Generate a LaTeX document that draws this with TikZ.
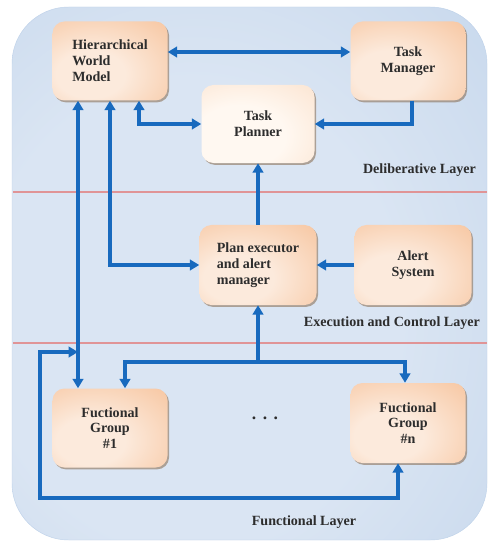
\documentclass[tikz,border=0pt]{standalone}
\usepackage{fontspec}
\setmainfont{Liberation Serif}
\usetikzlibrary{arrows.meta,shadows}

\definecolor{panelin}{RGB}{218,229,243}
\definecolor{panelmid}{RGB}{192,211,234}
\definecolor{panelout}{RGB}{138,172,215}
\definecolor{boxin}{RGB}{252,234,220}
\definecolor{boxout}{RGB}{244,178,128}
\definecolor{planin}{RGB}{255,248,241}
\definecolor{planout}{RGB}{249,214,186}
\definecolor{linkblue}{RGB}{24,106,190}
\definecolor{layerred}{RGB}{224,148,150}
\definecolor{textgray}{RGB}{45,45,45}

\pgfdeclareradialshading{panelshade}{\pgfpoint{-8bp}{-5bp}}{color(0bp)=(panelin); color(22bp)=(panelin); color(50bp)=(panelmid); color(72bp)=(panelout); color(95bp)=(panelout)}
\pgfdeclareradialshading{boxshade}{\pgfpoint{-10bp}{-10bp}}{color(0bp)=(boxin); color(15bp)=(boxin); color(60bp)=(boxout); color(95bp)=(boxout)}
\pgfdeclareradialshading{planshade}{\pgfpoint{-10bp}{-10bp}}{color(0bp)=(planin); color(20bp)=(planin); color(62bp)=(planout); color(95bp)=(planout)}

\begin{document}
\begin{tikzpicture}[
    x=0.03cm, y=-0.03cm,
    block/.style={rectangle, rounded corners=0.36cm, shading=boxshade, minimum width=3.45cm, minimum height=2.37cm, align=center, text=textgray, font=\fontsize{12}{13.5}\selectfont\bfseries, drop shadow={opacity=0.45, shadow xshift=1.3pt, shadow yshift=-1.6pt, fill=brown!60!black}},
    layername/.style={text=textgray, font=\fontsize{12}{14}\selectfont\bfseries},
    link/.style={draw=linkblue, line width=3pt, {Triangle[length=8pt,width=9pt]}-{Triangle[length=8pt,width=9pt]}},
    tolink/.style={draw=linkblue, line width=3pt, -{Triangle[length=8pt,width=9pt]}},
    divider/.style={draw=layerred, line width=2pt}
]
    \useasboundingbox[fill=white] (0,0) rectangle (489,542);

    % Hintergrund
    \path[shading=panelshade, draw=panelmid, rounded corners=1.7cm] (12,7) rectangle (487,540);
    \draw[divider] (13,192) -- (487,192);
    \draw[divider] (13,343) -- (487,343);

    % Deliberative Layer
    \node[block, align=left] (hwm) at (110,61) {Hierarchical\\World\\Model};
    \node[block] (tm) at (408,61) {Task\\Manager};
    \node[block, shading=planshade, minimum width=3.39cm, minimum height=2.34cm] (tp) at (258,124) {Task\\Planner};
    \node[layername, anchor=east] (dl) at (480,170) {Deliberative Layer};

    % Execution and Control Layer
    \node[block, align=left, minimum width=3.51cm, minimum height=2.4cm] (pe) at (258,265) {Plan executor\\and alert\\manager};
    \node[block, minimum width=3.51cm, minimum height=2.4cm] (as) at (413,265) {Alert\\System};
    \node[layername, anchor=east] (ecl) at (484,323) {Execution and Control Layer};

    % Functional Layer
    \node[block] (fg1) at (110,428) {Fuctional\\Group\\\#1};
    \node[block, minimum height=2.4cm] (fgn) at (408,423) {Fuctional\\Group\\\#n};
    \node[text=textgray, font=\fontsize{15}{16}\selectfont\bfseries] (dots) at (265,418) {.\hspace{5.5pt}.\hspace{5.5pt}.};
    \node[layername] (fl) at (304,522) {Functional Layer};

    \coordinate (split) at (258,362);
    \coordinate (fb) at (78,352);
    \coordinate (loop) at (40,498);

    % Verbindungen
    \draw[link] (hwm.east |- 0,52) -- (tm.west |- 0,52);
    \draw[link] (hwm.south -| 139,0) |- (tp.west);
    \draw[tolink] (tm.south -| 412,0) |- (tp.east);
    \draw[tolink] (pe.north) -- (tp.south);
    \draw[link] (hwm.south) |- (pe.west);
    \draw[tolink] (as.west) -- (pe.east);
    \draw[link] (hwm.south -| 78,0) -- (fg1.north -| 78,0);
    \draw[link] (fb) -| (loop) -| (fgn.south -| 398,0);
    \draw[tolink] (split) -- (pe.south);
    \draw[tolink] (split) -| (fg1.north -| 125,0);
    \draw[tolink] (split) -| (fgn.north -| 405,0);
\end{tikzpicture}
\end{document}
